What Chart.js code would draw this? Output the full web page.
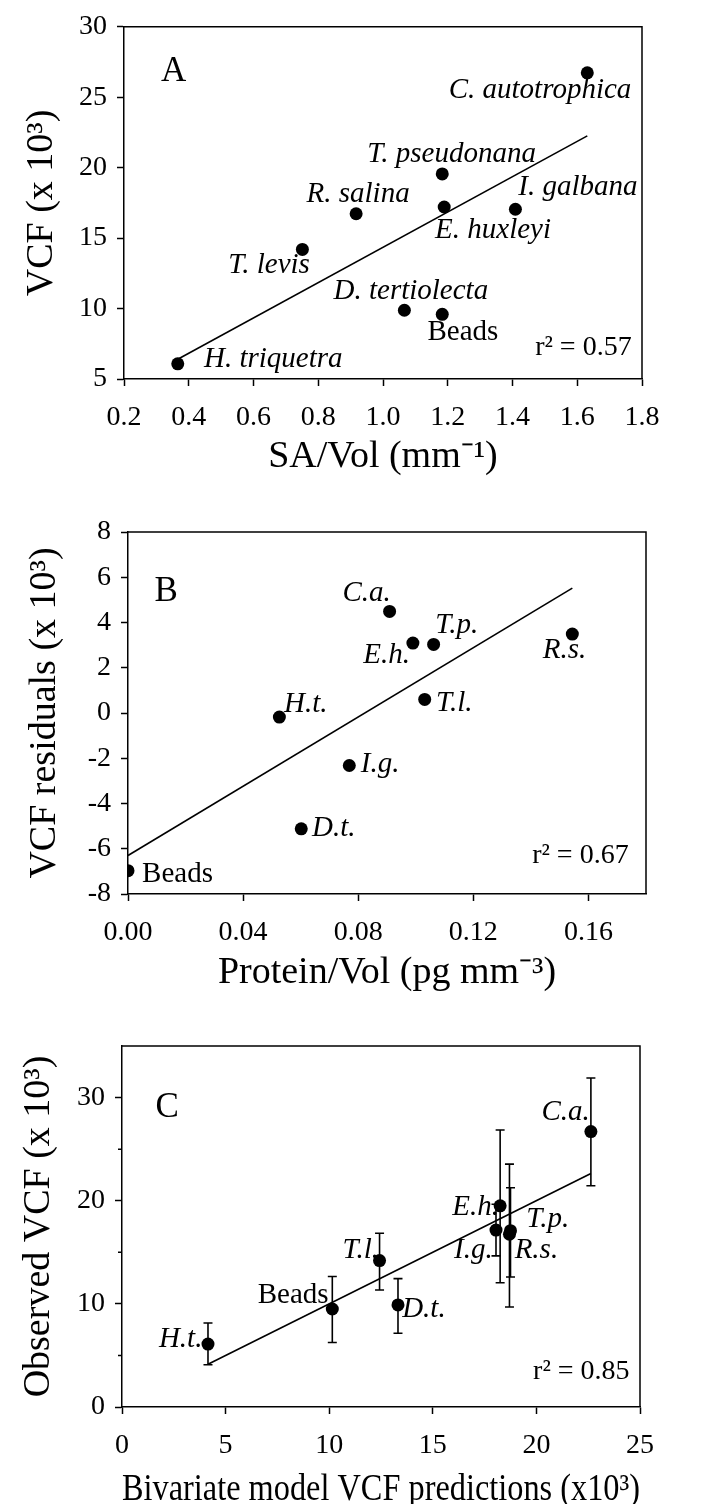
<!DOCTYPE html>
<html lang="en">
<head>
<meta charset="UTF-8">
<title>VCF panels A-C</title>
<script src="https://cdn.jsdelivr.net/npm/chart.js@4.4.1"></script>
<style>
  html,body{margin:0;padding:0;background:#fff;overflow:hidden;}
  #page{position:relative;width:702px;height:1504px;overflow:hidden;background:#fff;}
  .panel{position:absolute;left:0;width:702px;}
</style>
</head>
<body>
<div id="page">
  <div class="panel" style="top:0"><canvas id="chartA" width="702" height="490"></canvas></div>
  <div class="panel" style="top:490px"><canvas id="chartB" width="702" height="510"></canvas></div>
  <div class="panel" style="top:1000px"><canvas id="chartC" width="702" height="520"></canvas></div>
</div>
<script>
// ---- panel A: VCF vs SA/Vol
const namesA = ['H. triquetra','T. levis','R. salina','D. tertiolecta','Beads','T. pseudonana','E. huxleyi','I. galbana','C. autotrophica'];
const saVolA = [0.366, 0.751, 0.917, 1.066, 1.183, 1.183, 1.189, 1.409, 1.631];
const vcfA   = [6.08, 14.2, 16.73, 9.88, 9.59, 19.56, 17.21, 17.05, 26.73];
const fitXA  = [0.366, 1.631];
const fitYA  = [6.4, 22.26];
const labXA  = [0.661, 0.648, 0.923, 1.086, 1.247, 1.212, 1.34, 1.602, 1.485];
const labYA  = [5.86, 12.51, 17.58, 10.69, 7.78, 20.39, 15.01, 18.05, 24.94];

// ---- panel B: VCF residuals vs Protein/Vol
const namesB = ['Beads','H.t.','D.t.','I.g.','C.a.','E.h.','T.p.','T.l.','R.s.'];
const protB  = [0, 0.0526, 0.0602, 0.0769, 0.0909, 0.099, 0.1062, 0.1031, 0.1544];
const residB = [-6.97, -0.18, -5.12, -2.32, 4.49, 3.09, 3.03, 0.60, 3.49];
const fitXB  = [0, 0.1544];
const fitYB  = [-6.30, 5.52];
const labXB  = [0.0172, 0.0618, 0.0715, 0.0876, 0.0829, 0.0899, 0.1142, 0.1134, 0.1517];
const labYB  = [-7.46, 0.04, -5.43, -2.59, 4.93, 2.21, 3.53, 0.07, 2.43];

// ---- panel C: observed vs bivariate model predictions
const namesC = ['H.t.','Beads','T.l.','D.t.','I.g.','E.h.','T.p.','R.s.','C.a.'];
const predC  = [4.15, 10.15, 12.43, 13.32, 18.05, 18.25, 18.75, 18.7, 22.63];
const obsC   = [6.1, 9.5, 14.2, 9.9, 17.15, 19.5, 17.1, 16.75, 26.7];
const loC    = [4.1, 6.25, 11.35, 7.15, 14.65, 12.05, 12.6, 9.7, 21.45];
const hiC    = [8.15, 12.65, 16.85, 12.45, 19.65, 26.85, 21.25, 23.55, 31.9];
const fitXC  = [4.15, 22.63];
const fitYC  = [4.15, 22.63];
const labXC  = [2.83, 8.26, 11.52, 14.57, 16.96, 17.07, 20.55, 20.0, 21.41];
const labYC  = [5.83, 10.04, 14.41, 8.68, 14.41, 18.61, 17.48, 14.41, 27.83];
const minorYC = [5, 15, 25];

const serif = "'Liberation Serif','Times New Roman',serif";
const pts = (xs, ys) => xs.map((x, i) => ({x, y: ys[i]}));

const decor = {
  id: 'decor',
  beforeDatasetsDraw(chart, args, o) {
    if (!o.lo) return;
    const {ctx, scales: {x, y}} = chart;
    ctx.save();
    ctx.strokeStyle = '#000'; ctx.lineWidth = 1.6;
    o.xs.forEach((v, i) => {
      const px = x.getPixelForValue(v), p1 = y.getPixelForValue(o.lo[i]), p2 = y.getPixelForValue(o.hi[i]);
      ctx.beginPath();
      ctx.moveTo(px, p1); ctx.lineTo(px, p2);
      ctx.moveTo(px - 4.5, p1); ctx.lineTo(px + 4.5, p1);
      ctx.moveTo(px - 4.5, p2); ctx.lineTo(px + 4.5, p2);
      ctx.stroke();
    });
    ctx.restore();
  },
  afterDraw(chart, args, o) {
    const {ctx, chartArea: a, scales: {x, y}} = chart;
    ctx.save();
    ctx.strokeStyle = '#000'; ctx.lineWidth = 1.5;
    ctx.beginPath();
    ctx.moveTo(a.left, a.top); ctx.lineTo(a.right, a.top); ctx.lineTo(a.right, a.bottom);
    (o.minor || []).forEach(v => { const py = y.getPixelForValue(v); ctx.moveTo(a.left - 4, py); ctx.lineTo(a.left, py); });
    ctx.stroke();
    ctx.fillStyle = '#000'; ctx.textAlign = 'center'; ctx.textBaseline = 'alphabetic';
    o.names.forEach((n, i) => {
      ctx.font = (n === 'Beads' ? '' : 'italic ') + '29px ' + serif;
      ctx.fillText(n, x.getPixelForValue(o.lx[i]), y.getPixelForValue(o.ly[i]));
    });
    ctx.font = '28px ' + serif;
    ctx.fillText(o.r2[0], x.getPixelForValue(o.r2[1]), y.getPixelForValue(o.r2[2]));
    ctx.font = '35px ' + serif;
    ctx.fillText(o.letter[0], x.getPixelForValue(o.letter[1]), y.getPixelForValue(o.letter[2]));
    ctx.restore();
  }
};

function axis(min, max, step, fmt, title, size, pad, titlePad) {
  return {
    type: 'linear', min, max,
    ticks: {stepSize: step, includeBounds: false, color: '#000', padding: pad,
      font: {family: serif, size: 28}, callback: fmt},
    grid: {drawOnChartArea: false, drawTicks: true, tickLength: 7, tickColor: '#000', tickWidth: 1.5},
    border: {display: true, color: '#000', width: 1.5},
    title: {display: true, text: title, color: '#000', font: {family: serif, size: 38}, padding: titlePad},
    afterFit(s) { if (s.isHorizontal()) s.height = size; else s.width = size; }
  };
}

function panel(id, g, sx, sy, data, fit, opts) {
  return new Chart(document.getElementById(id), {
    type: 'scatter',
    data: {datasets: [
      {data, pointRadius: 6.5, pointHoverRadius: 6.5, backgroundColor: '#000', borderWidth: 0},
      {data: fit, showLine: true, pointRadius: 0, borderColor: '#000', borderWidth: 1.6, fill: false}
    ]},
    options: {
      responsive: false, animation: false, events: [],
      layout: {autoPadding: false, padding: {left: 0, top: g.top, right: g.right, bottom: 0}},
      plugins: {legend: {display: false}, tooltip: {enabled: false}, decor: opts},
      scales: {x: sx, y: sy}
    },
    plugins: [decor]
  });
}

panel('chartA', {top: 22, right: 60},
  axis(0.2, 1.8, 0.2, v => v.toFixed(1), 'SA/Vol (mm\u207B\u00B9)', 111, 15, {bottom: 10}),
  axis(5, 30, 5, v => String(v), 'VCF (x 10\u00B3)', 124, 10, {top: 19}),
  pts(saVolA, vcfA), pts(fitXA, fitYA),
  {names: namesA, lx: labXA, ly: labYA, r2: ['r\u00B2 = 0.57', 1.619, 6.73], letter: ['A', 0.353, 26.17]});

panel('chartB', {top: 42, right: 56},
  axis(0, 0.18, 0.04, v => v.toFixed(2), 'Protein/Vol (pg mm\u207B\u00B3)', 106, 15, {bottom: 4}),
  axis(-8, 8, 2, v => String(v), 'VCF residuals (x 10\u00B3)', 128, 10, {top: 22}),
  pts(protB, residB), pts(fitXB, fitYB),
  {names: namesB, lx: labXB, ly: labYB, r2: ['r\u00B2 = 0.67', 0.1572, -6.64], letter: ['B', 0.0133, 4.93]});

panel('chartC', {top: 46, right: 62},
  axis(0, 25, 5, v => String(v), 'Bivariate model VCF predictions (x10\u00B3)', 113, 15, {bottom: 7}),
  axis(0, 35, 10, v => String(v), 'Observed VCF (x 10\u00B3)', 122, 10, {top: 16}),
  pts(predC, obsC), pts(fitXC, fitYC),
  {names: namesC, lx: labXC, ly: labYC, r2: ['r\u00B2 = 0.85', 22.17, 2.76], letter: ['C', 2.18, 28.16],
   xs: predC, lo: loC, hi: hiC, minor: minorYC});
</script>
</body>
</html>
